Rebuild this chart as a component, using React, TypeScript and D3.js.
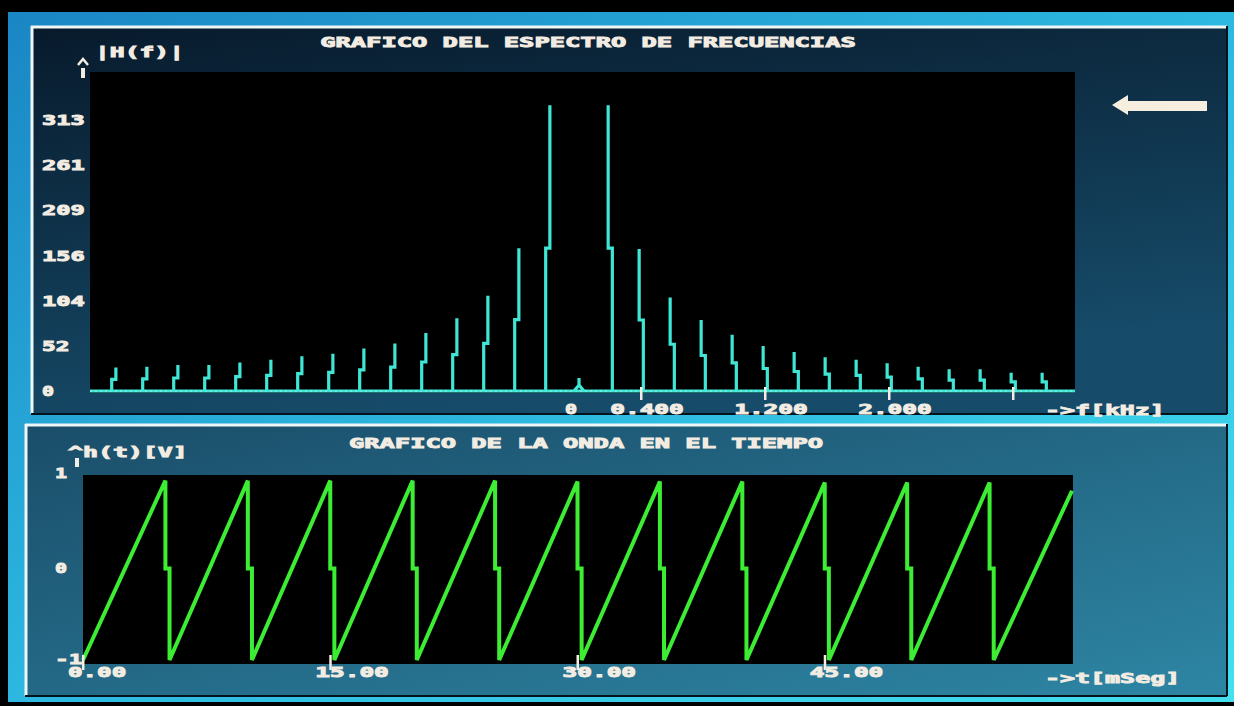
import React from "react";
import * as d3 from "d3";

// ---------- Spectrum data (|H(f)| vs f in kHz) ----------
const SPEC_FREQ_KHZ = [
  -3.0, -2.8, -2.6, -2.4, -2.2, -2.0, -1.8, -1.6, -1.4, -1.2, -1.0, -0.8, -0.6, -0.4, -0.2,
  0,
  0.2, 0.4, 0.6, 0.8, 1.0, 1.2, 1.4, 1.6, 1.8, 2.0, 2.2, 2.4, 2.6, 2.8, 3.0,
];
const SPEC_MAG = [
  27, 28, 30, 30, 33, 36, 40, 43, 49, 55, 67, 84, 110, 165, 330,
  15,
  330, 164, 108, 82, 65, 52, 45, 39, 36, 32, 28, 25, 25, 21, 21,
];
const SPEC_Y_TICKS = [0, 52, 104, 156, 209, 261, 313];
const SPEC_X_TICKS = [0.4, 1.2, 2.0, 2.8];
const SPEC_X_LABEL_VALUES = [0, 0.4, 1.2, 2.0];
const SPEC_X_LABELS = ["0", "0.400", "1.200", "2.000"];

// ---------- Time wave data (h(t) [V] vs t in ms) ----------
const WAVE_START_MS = 0;
const WAVE_START_V = -1;
const WAVE_DROP_MS = [5, 10, 15, 20, 25, 30, 35, 40, 45, 50, 55];
const WAVE_PEAK_V = [0.96, 0.96, 0.96, 0.96, 0.96, 0.95, 0.95, 0.95, 0.94, 0.94, 0.94];
const WAVE_MID_V = 0;
const WAVE_LOW_V = -1;
const WAVE_END_MS = 60;
const WAVE_END_V = 0.85;
const WAVE_Y_TICKS = [1, 0, -1];
const WAVE_Y_LABELS = ["1", "0", "-1"];
const WAVE_X_TICKS = [0, 15, 30, 45];
const WAVE_X_LABELS = ["0.00", "15.00", "30.00", "45.00"];

// ---------- style ----------
const TEXT = "#f3ece2";
const CYAN = "#3fe6d6";
const GREEN = "#3ded34";
const FONT = "'DejaVu Sans Mono', 'Liberation Mono', monospace";
const CELL = 15.4;

function DosText({ x, y, text, anchor = "start", size = 14, fill = TEXT }: any) {
  const len = (text.length - 1) * CELL + CELL * 0.78;
  return (
    <text
      x={x}
      y={y}
      textAnchor={anchor}
      fontFamily={FONT}
      fontWeight="bold"
      fontSize={size}
      fill={fill}
      stroke={fill}
      strokeWidth={0.9}
      textLength={len}
      lengthAdjust="spacingAndGlyphs"
      style={{ whiteSpace: "pre" }}
    >
      {text}
    </text>
  );
}

export default function App() {
  const W = 1234;
  const H = 706;

  // top plot area
  const tp = { x0: 90, x1: 1075, y0: 72, y1: 393 };
  const specX = d3.scaleLinear().domain([-3.155, 3.2]).range([tp.x0, tp.x1]);
  const specY = d3.scaleLinear().domain([0, 313]).range([391, 120]);

  // bottom plot area
  const bp = { x0: 83, x1: 1073, y0: 475, y1: 664 };
  const waveX = d3.scaleLinear().domain([0, 60]).range([83, 1072]);
  const waveY = d3.scaleLinear().domain([-1, 1]).range([660, 477]);

  const specLine = d3
    .line<[number, number]>()
    .x((d) => specX(d[0]))
    .y((d) => specY(d[1]));

  const JOG_OUT = 0.015;
  const JOG_IN = 0.012;
  const specPaths = SPEC_FREQ_KHZ.map((f, i) => {
    const m = SPEC_MAG[i];
    if (f === 0) {
      const pts: [number, number][] = [
        [-0.032, 0],
        [0, m * 0.45],
        [0, m],
        [0, m * 0.45],
        [0.032, 0],
      ];
      return specLine(pts);
    }
    const s = Math.sign(f);
    const pts: [number, number][] = [
      [f + s * JOG_OUT, 0],
      [f + s * JOG_OUT, m / 2],
      [f - s * JOG_IN, m / 2],
      [f - s * JOG_IN, m],
    ];
    return specLine(pts);
  });

  // waveform vertices built from read values
  const JOG_T = 0.25;
  const wavePts: [number, number][] = [[WAVE_START_MS, WAVE_START_V]];
  WAVE_DROP_MS.forEach((d, i) => {
    wavePts.push([d, WAVE_PEAK_V[i]]);
    wavePts.push([d, WAVE_MID_V]);
    wavePts.push([d + JOG_T, WAVE_MID_V]);
    wavePts.push([d + JOG_T, WAVE_LOW_V]);
  });
  wavePts.push([WAVE_END_MS, WAVE_END_V]);
  const waveLine = d3
    .line<[number, number]>()
    .x((d) => waveX(d[0]))
    .y((d) => waveY(d[1]))(wavePts);

  return (
    <svg
      width={W}
      height={H}
      style={{ position: "absolute", left: 0, top: 0, display: "block" }}
    >
      <defs>
        <linearGradient id="frame" x1="0" y1="0" x2="1" y2="1">
          <stop offset="0" stopColor="#1a86c4" />
          <stop offset="0.5" stopColor="#2cb8e0" />
          <stop offset="1" stopColor="#44e0ee" />
        </linearGradient>
        <linearGradient id="topPanel" x1="0" y1="0" x2="0.35" y2="1">
          <stop offset="0" stopColor="#081a2c" />
          <stop offset="1" stopColor="#164c6a" />
        </linearGradient>
        <linearGradient id="botPanel" x1="0" y1="0" x2="1" y2="1">
          <stop offset="0" stopColor="#1a4d69" />
          <stop offset="1" stopColor="#2d86a4" />
        </linearGradient>
      </defs>

      <rect x={0} y={0} width={W} height={H} fill="#000" />
      <rect x={8} y={12} width={W - 8} height={690} fill="url(#frame)" />

      {/* top panel */}
      <rect x={31} y={26} width={1196} height={388} fill="url(#topPanel)" />
      <line x1={31} y1={27} x2={1227} y2={27} stroke="#eef6f6" strokeWidth={3} />
      <line x1={32} y1={26} x2={32} y2={414} stroke="#eef6f6" strokeWidth={3} />
      <line x1={31} y1={414} x2={1227} y2={414} stroke="#04121c" strokeWidth={2} />
      <line x1={1227} y1={26} x2={1227} y2={414} stroke="#04121c" strokeWidth={2} />

      {/* bottom panel */}
      <rect x={25} y={424} width={1202} height={272} fill="url(#botPanel)" />
      <line x1={25} y1={425} x2={1227} y2={425} stroke="#eef6f6" strokeWidth={3} />
      <line x1={26} y1={424} x2={26} y2={696} stroke="#eef6f6" strokeWidth={3} />
      <line x1={25} y1={696} x2={1227} y2={696} stroke="#04121c" strokeWidth={2} />
      <line x1={1227} y1={424} x2={1227} y2={696} stroke="#04121c" strokeWidth={2} />

      {/* ---------- TOP: spectrum ---------- */}
      <DosText x={588} y={47} text="GRAFICO DEL ESPECTRO DE FRECUENCIAS" anchor="middle" />
      <DosText x={95} y={57} text="|H(f)|" />
      <polyline points="78,65 83,59 88,65" fill="none" stroke={TEXT} strokeWidth={2.5} />
      <rect x={81} y={68} width={4} height={10} fill={TEXT} />

      <rect x={tp.x0} y={tp.y0} width={tp.x1 - tp.x0} height={tp.y1 - tp.y0} fill="#000" />

      {SPEC_Y_TICKS.map((v) => (
        <DosText key={v} x={42} y={specY(v) + 5} text={String(v)} />
      ))}

      <line
        x1={tp.x0}
        x2={tp.x1}
        y1={specY(0)}
        y2={specY(0)}
        stroke={CYAN}
        strokeWidth={3}
      />
      <line
        x1={tp.x0}
        x2={tp.x1}
        y1={specY(0)}
        y2={specY(0)}
        stroke="#d8fff8"
        strokeWidth={1}
        strokeDasharray="2 3"
        opacity={0.6}
      />
      {specPaths.map((p, i) => (
        <path key={i} d={p || ""} fill="none" stroke={CYAN} strokeWidth={3.2} strokeLinejoin="miter" />
      ))}

      {SPEC_X_TICKS.map((v) => (
        <rect key={v} x={specX(v) - 1} y={387} width={2.5} height={13} fill={TEXT} />
      ))}
      {SPEC_X_LABEL_VALUES.map((v, i) => (
        <DosText
          key={v}
          x={specX(v) + (v === 0 ? -8 : 6)}
          y={414}
          text={SPEC_X_LABELS[i]}
          anchor="middle"
        />
      ))}
      <DosText x={1045} y={415} text="->f[kHz]" />

      {/* arrow on the right */}
      <path
        d="M1112,105 L1128,95 L1128,101 L1207,101 L1207,111 L1128,111 L1128,115 Z"
        fill="#f6eede"
      />

      {/* ---------- BOTTOM: time wave ---------- */}
      <DosText x={586} y={448} text="GRAFICO DE LA ONDA EN EL TIEMPO" anchor="middle" />
      <DosText x={68} y={457} text="^h(t)[V]" />
      <rect x={75} y={458} width={4} height={9} fill={TEXT} />

      <rect x={bp.x0} y={bp.y0} width={bp.x1 - bp.x0} height={bp.y1 - bp.y0} fill="#000" />

      {WAVE_Y_TICKS.map((v, i) => (
        <DosText key={v} x={55} y={waveY(v) + 4 + (v === 1 ? -3 : 0)} text={WAVE_Y_LABELS[i]} />
      ))}

      <path d={waveLine || ""} fill="none" stroke={GREEN} strokeWidth={4} strokeLinejoin="miter" />

      {WAVE_X_TICKS.map((v) => (
        <rect key={v} x={waveX(v) - 1} y={655} width={2.5} height={15} fill={TEXT} />
      ))}
      {WAVE_X_TICKS.map((v, i) => (
        <DosText key={v} x={waveX(v) - 15} y={677} text={WAVE_X_LABELS[i]} />
      ))}
      <DosText x={1045} y={683} text="->t[mSeg]" />
    </svg>
  );
}
